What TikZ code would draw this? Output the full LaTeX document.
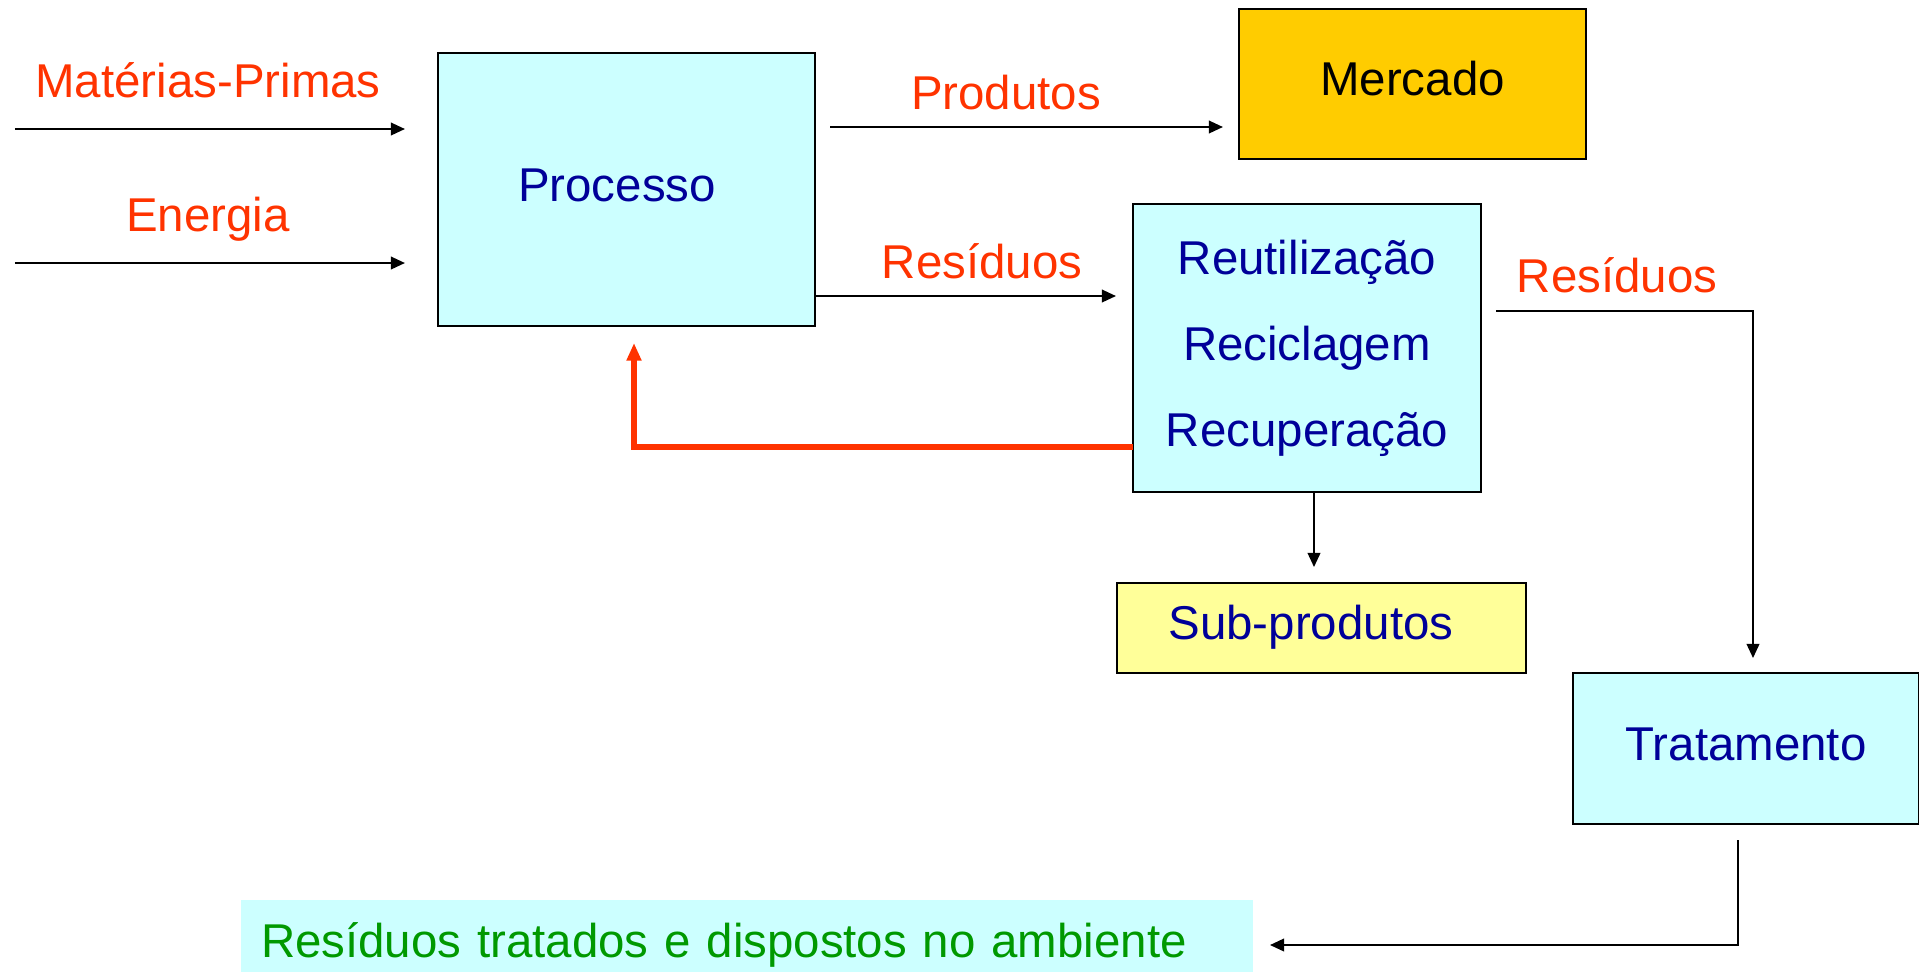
\documentclass[tikz,border=0pt]{standalone}
\usepackage{fontspec}
\setmainfont{Liberation Sans}
\usetikzlibrary{arrows.meta}
\definecolor{labelred}{HTML}{FF3300}
\definecolor{boxblue}{HTML}{000099}
\definecolor{boxcyan}{HTML}{CCFFFF}
\definecolor{boxgold}{HTML}{FFCC00}
\definecolor{boxyellow}{HTML}{FFFF99}
\definecolor{textgreen}{HTML}{009900}
\newcommand{\bigtxt}{\fontsize{13.5}{16}\selectfont}
\begin{document}
\begin{tikzpicture}[
    block/.style={rectangle,draw,line width=0.6pt,fill=boxcyan,text=boxblue,font=\bigtxt},
    oneline/.style={text height=0.37cm,text depth=0.14cm},
    lbl/.style={text=labelred,font=\bigtxt},
    flow/.style={-{Triangle[length=4pt,width=3.6pt]},line width=0.5pt},
    back/.style={-{Triangle[length=5pt,width=4pt]},line width=1.8pt,draw=labelred}
  ]
  \useasboundingbox (0,0) rectangle (19.19,-9.72);
  % boxes
  \node[block,oneline,minimum width=3.77cm,minimum height=2.73cm] (proc) at
  (6.265,-1.895) {Processo\kern0.19cm};
  \node[block,oneline,fill=boxgold,text=black,minimum width=3.47cm,minimum height=1.50cm] (merc) at
  (14.125,-0.84) {Mercado};
  \node[block,align=center,font=\fontsize{13.5}{24.5}\selectfont,minimum width=3.48cm,minimum height=2.88cm] (reuse) at
  (13.07,-3.48) {Reutilização\\Reciclagem\\Recuperação};
  \node[block,oneline,fill=boxyellow,minimum width=4.09cm,minimum height=0.90cm] (sub) at
  (13.215,-6.28) {Sub-produtos\kern0.21cm};
  \node[block,oneline,minimum width=3.46cm,minimum height=1.51cm] (trat) at
  (17.46,-7.485) {Tratamento};
  \node[fill=boxcyan,text=textgreen,font=\bigtxt,text height=0.5cm,text depth=0.08cm,inner xsep=0.2cm,inner ysep=0.03cm,text width=9.72cm,align=left,minimum height=0.72cm] (amb) at
  (7.47,-9.36) {Resíduos tratados e dispostos no ambiente};
  % labels
  \node[lbl] (mplbl) at (2.08,-0.80) {Matérias-Primas};
  \node[lbl] (enlbl) at (2.08,-2.19) {Energia};
  \node[lbl] (prodlbl) at (10.06,-0.93) {Produtos};
  \node[lbl] (reslbl) at (9.82,-2.61) {Resíduos};
  \node[lbl] (res2lbl) at (16.17,-2.75) {Resíduos};
  % free ends
  \coordinate (mpin) at (0.15,-1.29);
  \coordinate (enin) at (0.15,-2.63);
  \coordinate (prodout) at (8.30,-1.27);
  \coordinate (resout) at (8.15,-2.96);
  \coordinate (res2out) at (14.96,-3.11);
  \coordinate (trattop) at (17.53,-6.58);
  \coordinate (backout) at (11.33,-4.47);
  \coordinate (backin) at (6.34,-3.43);
  \coordinate (subtop) at (13.14,-5.67);
  \coordinate (tratout) at (17.38,-8.40);
  \coordinate (ambin) at (12.70,-9.45);
  % connectors
  \draw[flow,shorten >=3.2mm] (mpin) to (mpin -| proc.west);
  \draw[flow,shorten >=3.2mm] (enin) to (enin -| proc.west);
  \draw[flow,shorten >=1.5mm] (prodout) to (prodout -| merc.west);
  \draw[flow,shorten >=1.6mm] (resout) to (resout -| reuse.west);
  \draw[flow] (res2out) -| (trattop);
  \draw[back] (backout) -| (backin);
  \draw[flow] (subtop |- reuse.south) to (subtop);
  \draw[flow] (tratout) |- (ambin);
\end{tikzpicture}
\end{document}
